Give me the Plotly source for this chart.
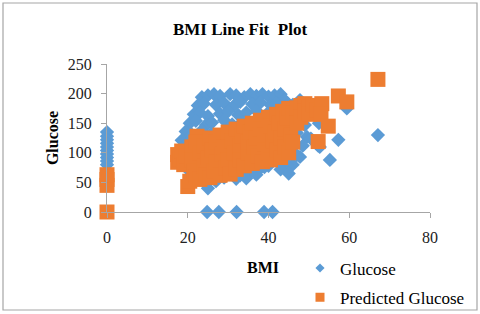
import plotly.graph_objects as go

glucose_bmi = [23.5, 25, 26.5, 28, 30.5, 32, 34, 35.5, 37, 38.5, 40, 41.5, 43, 44,
               22.5, 24, 27, 29, 31.5, 33, 36, 38, 40.5, 42, 44.5, 46, 47.8,
               21.5, 23, 25, 28, 30, 32.5, 34.5, 37, 39.5, 41, 43.5, 45.5, 48,
               20.5, 22, 24.5, 26, 29, 31, 33.5, 36, 38, 42, 44, 46.5, 49,
               19.5, 21, 23.5, 26, 28.5, 31.5, 35, 37.5, 40, 43, 45, 47, 49.5,
               18.5, 20, 22.5, 25.5, 30, 34, 38, 41.5, 44, 46, 48.5, 50.5, 52.5, 52.7,
               18, 19.5, 22, 27, 32, 36, 40, 43, 45.5, 47, 47.8,
               18.5, 20.5, 23, 26, 29, 33, 37, 41, 44, 46, 45,
               20, 22, 24, 26, 28, 30.5, 33, 35.5, 38, 40, 43, 45,
               25, 24.5, 27, 29, 32, 34.5, 37, 39,
               24.8, 27.7, 32.1, 38.9, 41.0,
               0, 0, 0, 0, 0, 0, 0, 0, 0, 0,
               55.2, 57.3, 59.4, 67.1, 52.3]
glucose_val = [194, 197, 199, 196, 199, 197, 194, 199, 196, 199, 195, 197, 199, 189,
               180, 183, 181, 184, 180, 186, 182, 185, 181, 184, 179, 181, 189,
               165, 168, 162, 166, 170, 164, 168, 171, 165, 169, 163, 167, 160,
               150, 154, 147, 151, 155, 148, 152, 146, 150, 153, 145, 150, 147,
               136, 131, 138, 134, 129, 137, 132, 139, 133, 136, 128, 134, 127,
               121, 117, 124, 119, 122, 118, 115, 121, 117, 120, 112, 124, 150, 110,
               104, 108, 100, 106, 102, 108, 99, 104, 101, 96, 93,
               88, 92, 84, 89, 86, 91, 85, 90, 84, 80, 76,
               72, 68, 75, 65, 70, 66, 62, 68, 74, 78, 72, 65,
               40, 48, 52, 58, 56, 57, 63, 76,
               0, 0, 0, 0, 0,
               135, 128, 122, 116, 110, 104, 98, 92, 86, 80,
               88, 122, 175, 130, 112]

# Predicted glucose vs BMI
pred_bmi = [17.5, 17.5, 18, 18.5, 19, 19.5, 20, 20.5, 21, 21, 21.5, 22, 22.3, 22,
            23, 23, 24, 24, 24.5, 25, 25.5, 25.5, 26, 26.5, 27, 27, 28, 28, 28.5,
            29, 29.5, 30, 30, 30.5, 31, 31.5, 32, 32, 33, 33, 33.5, 34, 34, 35, 35,
            35.5, 36, 36, 36.5, 37, 37.5, 38, 38, 38.5, 39, 39, 40, 40, 40.5, 40.5,
            41, 41.5, 42, 42, 42.5, 43, 43, 43.5, 44, 44, 44.5, 45, 45, 45.5, 46, 46,
            47, 47, 48, 48, 49, 49, 50, 50, 51, 52, 53.2, 53, 54.8, 52.3,
            57.3, 59.4, 67.1, 0, 0, 0, 0]
pred_val = [84, 97, 90, 103, 80, 95, 43, 52, 110, 88, 70, 60, 128, 118,
            100, 55, 78, 112, 62, 92, 125, 58, 105, 70, 85, 118, 130, 62, 98,
            110, 75, 135, 88, 64, 120, 100, 140, 72, 112, 88, 128, 145, 78, 100, 118,
            135, 150, 82, 110, 125, 95, 155, 140, 85, 115, 130, 160, 100, 88, 145,
            120, 135, 165, 105, 150, 92, 125, 170, 140, 110, 158, 175, 100, 130, 168, 118,
            176, 150, 180, 160, 183, 170, 178, 165, 180, 172, 183, 165, 145, 119,
            196, 186, 224, 0, 45, 55, 63]

x_ticks = [0, 20, 40, 60, 80]
y_ticks = [0, 50, 100, 150, 200, 250]

BLUE = "#5B9BD5"
ORANGE = "#ED7D31"
FONT = "Liberation Serif"

fig = go.Figure()
fig.add_trace(go.Scatter(x=glucose_bmi, y=glucose_val, mode="markers", name="Glucose",
                         marker=dict(symbol="diamond", size=11, color=BLUE),
                         showlegend=False, cliponaxis=False))
fig.add_trace(go.Scatter(x=pred_bmi, y=pred_val, mode="markers", name="Predicted Glucose",
                         marker=dict(symbol="square", size=15, color=ORANGE),
                         showlegend=False, cliponaxis=False))
# legend entries with smaller symbols
fig.add_trace(go.Scatter(x=[None], y=[None], mode="markers", name="Glucose",
                         marker=dict(symbol="diamond", size=7, color=BLUE),
                         legendgroup="a"))
fig.add_trace(go.Scatter(x=[None], y=[None], mode="markers", name="Predicted Glucose",
                         marker=dict(symbol="square", size=9, color=ORANGE),
                         legendgroup="b"))

axis_common = dict(showgrid=False, zeroline=False, showline=True, linecolor="#a6a6a6",
                   linewidth=1, ticks="outside", ticklen=5, tickcolor="#a6a6a6",
                   tickfont=dict(family=FONT, size=16, color="#222"))

fig.update_layout(
    width=480, height=314,
    margin=dict(l=107, r=50, t=64, b=102, autoexpand=False),
    paper_bgcolor="white", plot_bgcolor="white",
    title=dict(text="BMI Line Fit\u00a0 Plot", x=0.5, xanchor="center",
               y=1 - 29 / 314, yanchor="middle",
               font=dict(family=FONT, size=17, color="black", weight="bold")),
    xaxis=dict(range=[0, 80], tickvals=x_ticks, ticklabelstandoff=6, **axis_common),
    yaxis=dict(range=[0, 250], tickvals=y_ticks, ticklabelstandoff=6, **axis_common),
    legend=dict(x=(300 - 107) / 323, xanchor="left", y=-0.26, yanchor="top",
                traceorder="grouped", tracegroupgap=4,
                font=dict(family=FONT, size=17, color="black"),
                bgcolor="rgba(0,0,0,0)"),
    annotations=[
        dict(text="<b>BMI</b>", xref="paper", yref="paper", x=0.483, y=-0.372,
             showarrow=False, xanchor="center", yanchor="middle",
             font=dict(family=FONT, size=16, color="black")),
        dict(text="<b>Glucose</b>", xref="paper", yref="paper", x=-0.170, y=0.5,
             showarrow=False, xanchor="center", yanchor="middle", textangle=-90,
             font=dict(family=FONT, size=16, color="black")),
    ],
    shapes=[dict(type="rect", xref="paper", yref="paper",
                 x0=(3 - 107) / 323, x1=(477 - 107) / 323,
                 y0=-(310 - 212) / 148, y1=1 + (64 - 3) / 148,
                 line=dict(color="#a6a6a6", width=1.2), fillcolor="rgba(0,0,0,0)",
                 layer="below")],
)

fig.write_html("out.html", config={"displayModeBar": False},
               post_script="document.body.style.margin='0';document.body.style.overflow='hidden';")
